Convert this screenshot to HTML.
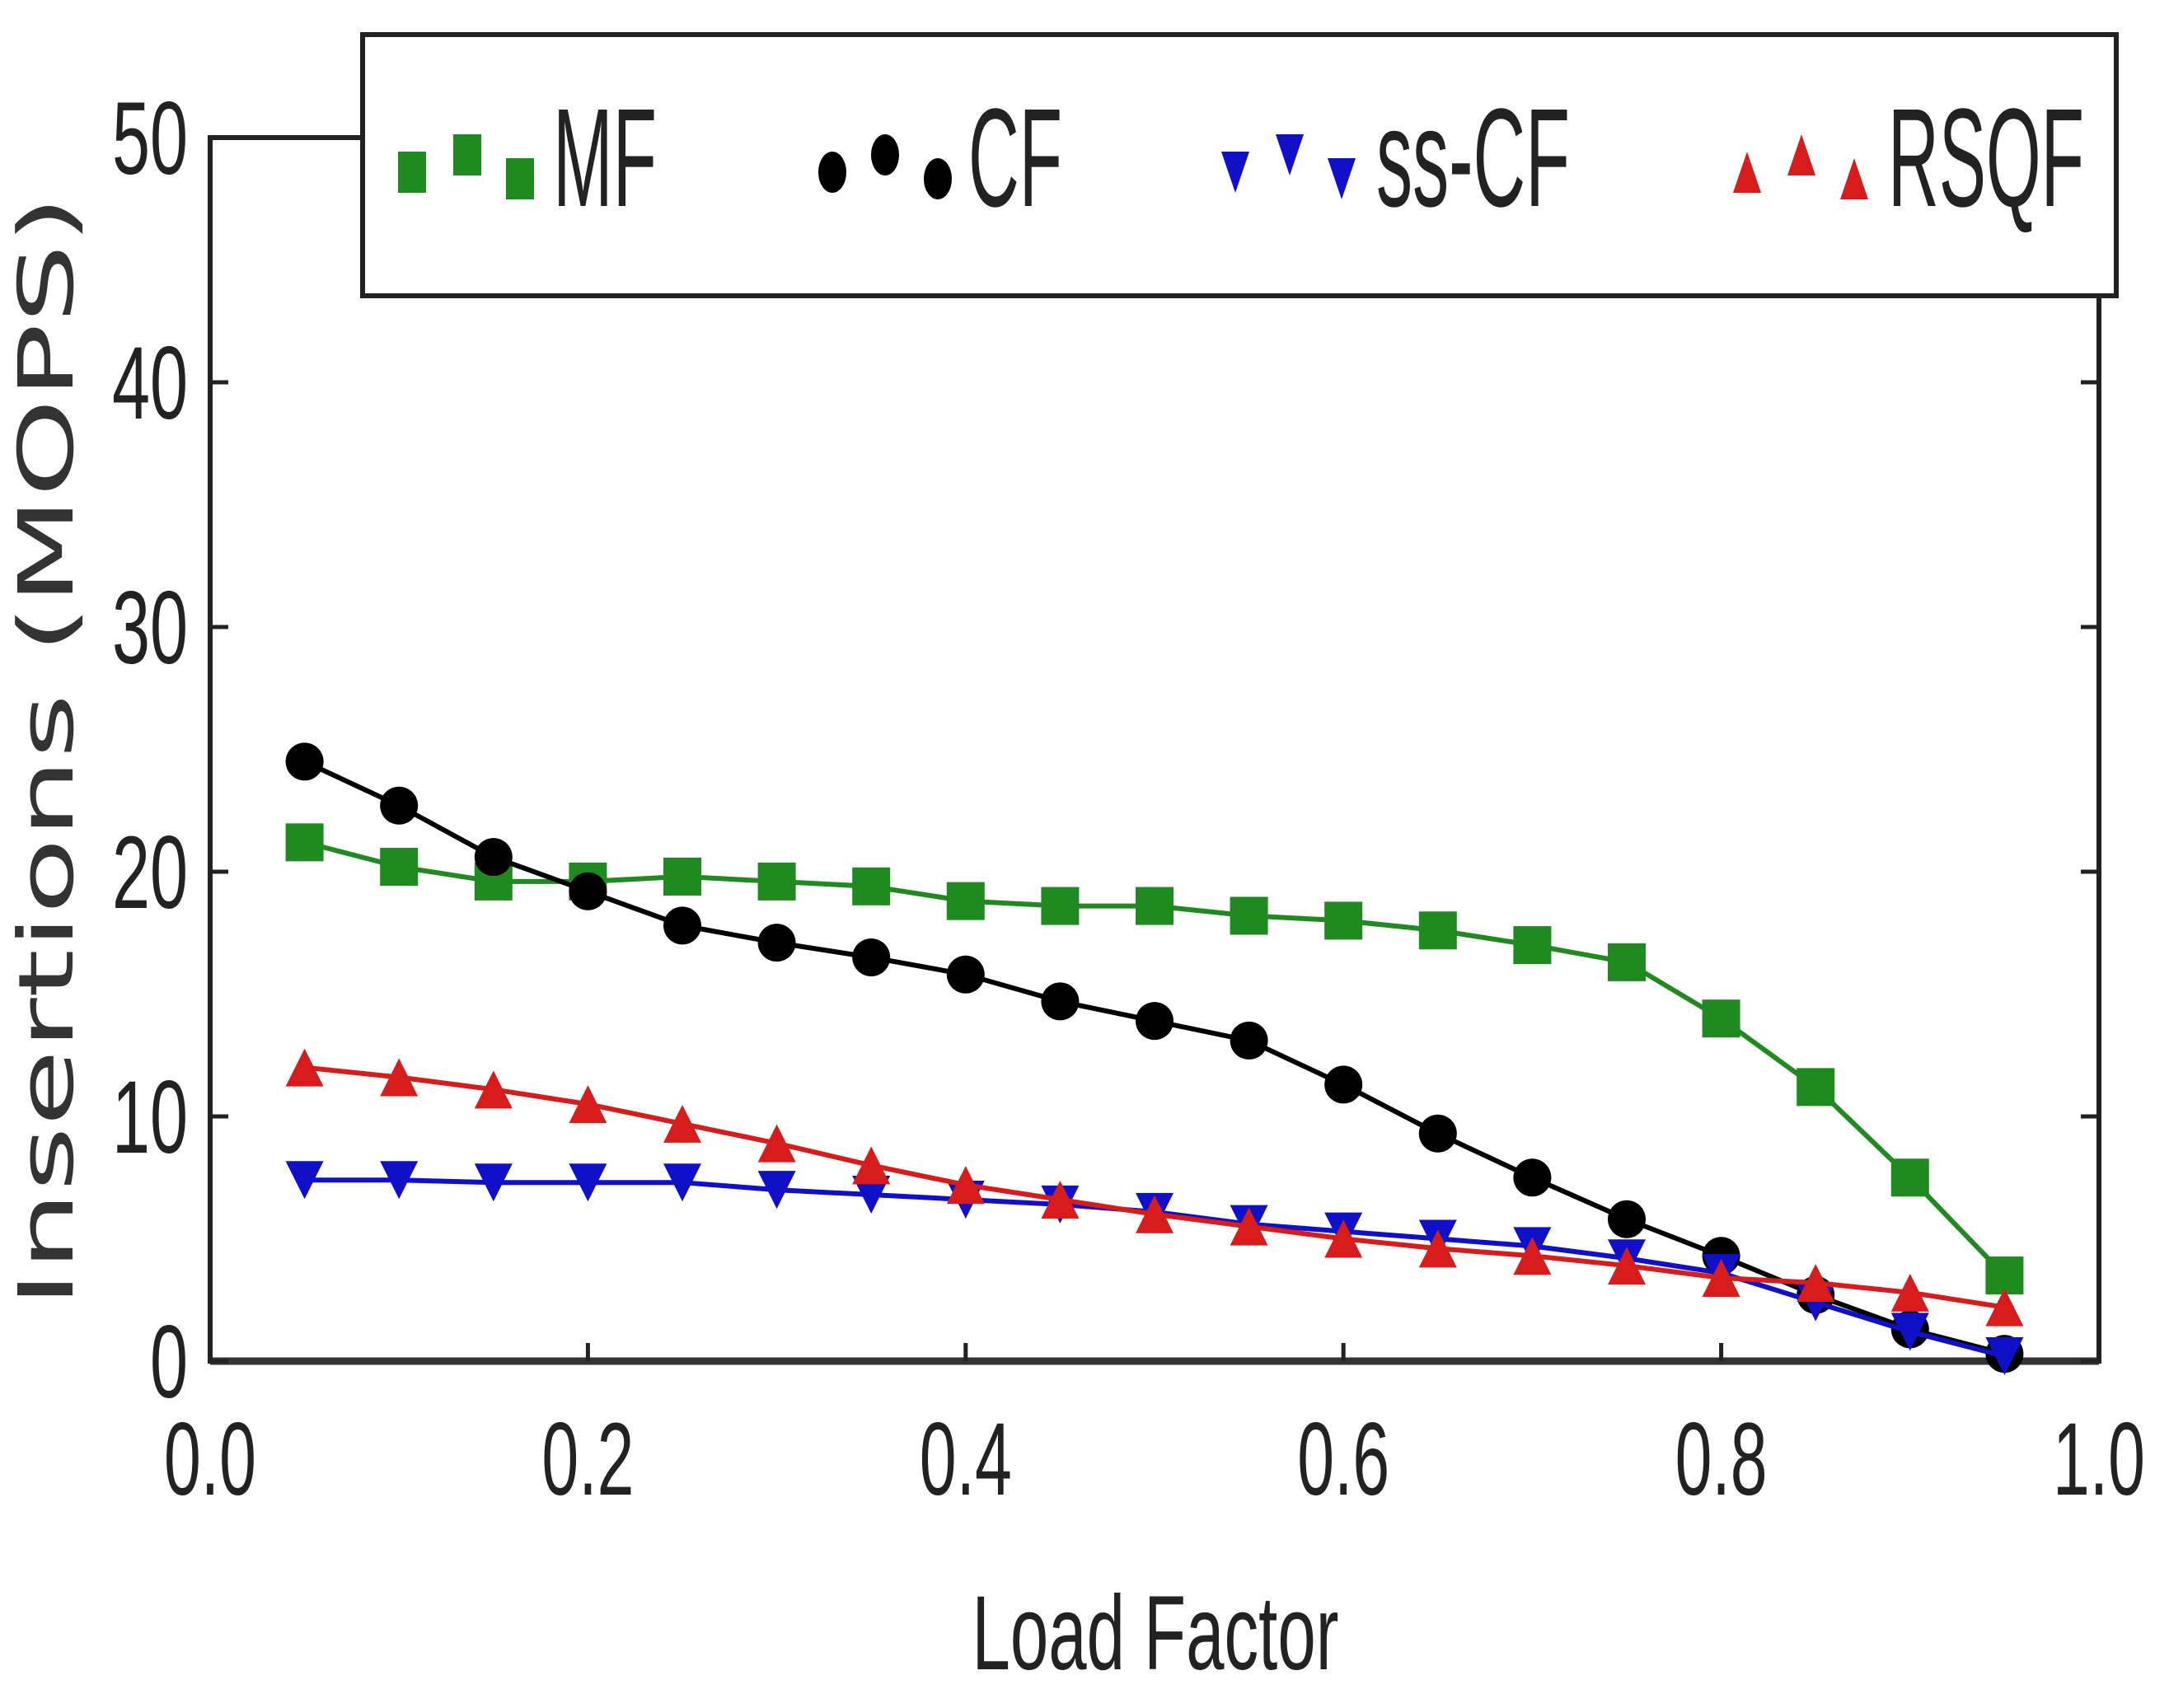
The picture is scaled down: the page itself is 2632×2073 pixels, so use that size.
<!DOCTYPE html>
<html><head><meta charset="utf-8"><style>html,body{margin:0;padding:0;background:#fff}svg{display:block}</style></head>
<body>
<svg id="chart" width="2632" height="2073" viewBox="0 0 2632 2073" xmlns="http://www.w3.org/2000/svg">
<rect width="2632" height="2073" fill="#fff"/>
<g id="axes"></g>
<g id="series"></g>
<g id="legend"></g>
</svg>
<script>
const xVals=[0.05,0.1,0.15,0.2,0.25,0.3,0.35,0.4,0.45,0.5,0.55,0.6,0.65,0.7,0.75,0.8,0.85,0.9,0.95];
const mfVals=[21.2,20.2,19.6,19.6,19.8,19.6,19.4,18.8,18.6,18.6,18.2,18.0,17.6,17.0,16.3,14.0,11.2,7.5,3.5];
const cfVals=[24.5,22.7,20.6,19.2,17.8,17.1,16.5,15.8,14.7,13.9,13.1,11.3,9.3,7.5,5.8,4.3,2.7,1.3,0.3];
const sscfVals=[7.4,7.4,7.3,7.3,7.3,7.0,6.8,6.6,6.4,6.1,5.6,5.3,5.0,4.7,4.2,3.6,2.4,1.2,0.2];
const rsqfVals=[12.0,11.6,11.1,10.5,9.7,8.9,8.0,7.2,6.6,6.0,5.5,5.0,4.6,4.3,3.9,3.4,3.2,2.8,2.2];
const xTicks=[0.0,0.2,0.4,0.6,0.8,1.0];
const xTickLabels=["0.0","0.2","0.4","0.6","0.8","1.0"];
const yTicks=[0,10,20,30,40,50];
const yTickLabels=["0","10","20","30","40","50"];

const L=255,R=2547,T=167,B=1652;
const sx=v=>L+(v-0)/(1-0)*(R-L);
const sy=v=>B-(v-0)/(50-0)*(B-T);
const NS="http://www.w3.org/2000/svg";
function mk(tag,attrs,parent){const e=document.createElementNS(NS,tag);for(const k in attrs)e.setAttribute(k,attrs[k]);parent.appendChild(e);return e;}
const axes=document.getElementById('axes');
const ser=document.getElementById('series');
const leg=document.getElementById('legend');
const FONT='"Liberation Sans", sans-serif';

const frame=mk('rect',{x:L,y:T,width:R-L,height:B-T,fill:'none',stroke:'#222',"stroke-width":6},axes);


const xAxis=mk('line',{x1:L,y1:B,x2:R,y2:B,stroke:'#333',"stroke-width":9},axes);



xTicks.forEach((t,i)=>{
  const x=sx(t);
  const tk=mk('line',{x1:x,y1:B,x2:x,y2:B-22,stroke:'#222',"stroke-width":5},axes);
  
  
  const tk2=mk('line',{x1:x,y1:T,x2:x,y2:T+22,stroke:'#222',"stroke-width":5},axes);
  
  
  const lb=mk('text',{x:x,y:1814,"text-anchor":"middle","font-family":FONT,"font-size":125,fill:'#222',textLength:112,lengthAdjust:'spacingAndGlyphs'},axes);
  lb.textContent=xTickLabels[i];
  
  
});
yTicks.forEach((t,i)=>{
  const y=sy(t);
  const tk=mk('line',{x1:L,y1:y,x2:L+22,y2:y,stroke:'#222',"stroke-width":5},axes);
  
  
  const tk2=mk('line',{x1:R,y1:y,x2:R-22,y2:y,stroke:'#222',"stroke-width":5},axes);
  
  
  const lb=mk('text',{x:228,y:y+44,"text-anchor":"end","font-family":FONT,"font-size":125,fill:'#222',textLength:yTickLabels[i].length*46,lengthAdjust:'spacingAndGlyphs'},axes);
  lb.textContent=yTickLabels[i];
  
  
});
const yt=mk('text',{x:0,y:0,transform:'translate(88,912) rotate(-90)',"text-anchor":"middle","font-family":'"DejaVu Sans", sans-serif',"font-size":92,fill:'#333',textLength:1350,lengthAdjust:'spacingAndGlyphs'},axes);
yt.textContent='Insertions (MOPS)';


const xt=mk('text',{x:1402,y:2026,"text-anchor":"middle","font-family":FONT,"font-size":128,fill:'#222',textLength:445,lengthAdjust:'spacingAndGlyphs'},axes);
xt.textContent='Load Factor';



function marker(type,x,y,color,w,h,parent){
  let e;
  if(type==='sq') e=mk('rect',{x:x-w/2,y:y-h/2,width:w,height:h,fill:color},parent);
  else if(type==='ci') e=mk('ellipse',{cx:x,cy:y,rx:w/2,ry:h/2,fill:color},parent);
  else if(type==='dn') e=mk('polygon',{points:`${x-w/2},${y-h/2} ${x+w/2},${y-h/2} ${x},${y+h/2}`,fill:color},parent);
  else e=mk('polygon',{points:`${x-w/2},${y+h/2} ${x+w/2},${y+h/2} ${x},${y-h/2}`,fill:color},parent);
  return e;
}
const seriesDefs=[
  {name:'mf',vals:mfVals,color:'#1f8a1f',type:'sq'},
  {name:'cf',vals:cfVals,color:'#000',type:'ci'},
  {name:'sscf',vals:sscfVals,color:'#1010c8',type:'dn'},
  {name:'rsqf',vals:rsqfVals,color:'#d81c1c',type:'up'}
];
seriesDefs.forEach(d=>{
  const g=mk('g',{},ser);
  
  
  const pts=d.vals.map((v,i)=>sx(xVals[i])+','+sy(v)).join(' ');
  const pl=mk('polyline',{points:pts,fill:'none',stroke:d.color,"stroke-width":6},g);
  
  
  d.vals.forEach((v,i)=>{
    const m=marker(d.type,sx(xVals[i]),sy(v),d.color,46,46,g);
    
    
  });
});

const box=mk('rect',{x:440,y:42,width:2128,height:317,fill:'#fff',stroke:'#222',"stroke-width":6},leg);


const legItems=[
  {label:'MF',type:'sq',color:'#1f8a1f',mx:[500,567,631],tx:671,tw:126},
  {label:'CF',type:'ci',color:'#000',mx:[1010,1074,1138],tx:1175,tw:114},
  {label:'ss-CF',type:'dn',color:'#1010c8',mx:[1499,1565,1628],tx:1670,tw:235},
  {label:'RSQF',type:'up',color:'#d81c1c',mx:[2120,2186,2250],tx:2291,tw:238}
];
const my=[209,188,217];
legItems.forEach(it=>{
  const g=mk('g',{},leg);
  
  
  it.mx.forEach((x,j)=>{
    const m=marker(it.type,x,my[j],it.color,34,50,g);
    
    
  });
  const t=mk('text',{x:it.tx,y:250,"font-family":FONT,"font-size":170,fill:'#222',textLength:it.tw,lengthAdjust:'spacingAndGlyphs'},g);
  t.textContent=it.label;
  
  
});
</script>
</body></html>
